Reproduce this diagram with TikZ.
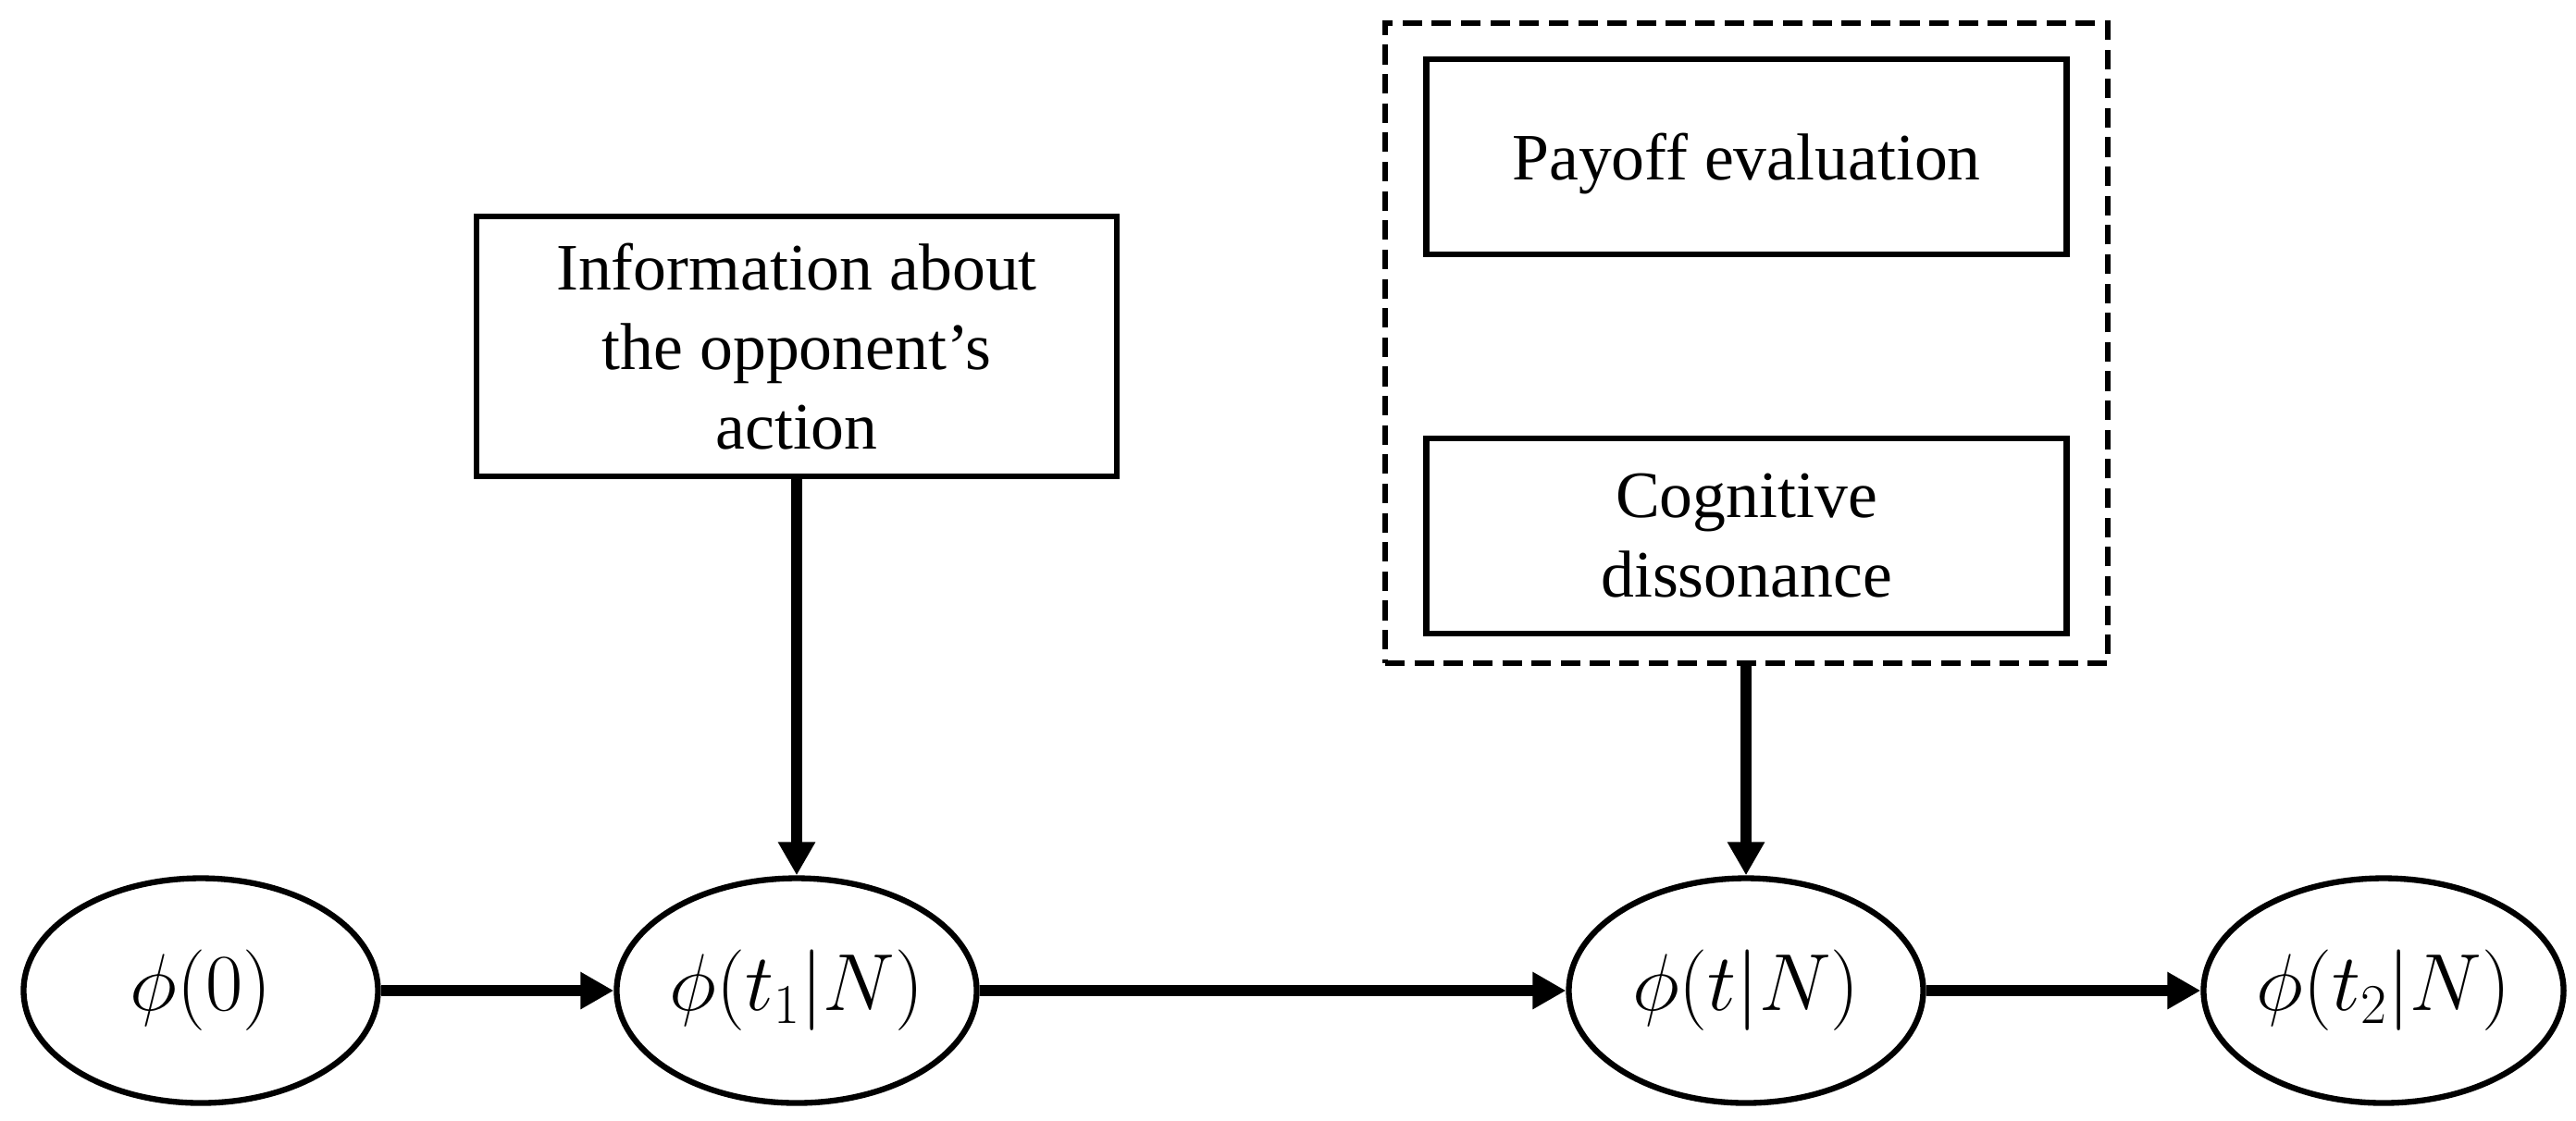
\documentclass[tikz,border=0pt]{standalone}
\usepackage{fontspec}
\setmainfont{Liberation Serif}
\usetikzlibrary{arrows.meta,shapes.geometric}
\begin{document}
\begin{tikzpicture}[
  state/.style={draw, ellipse, line width=1.8pt, minimum width=3.83cm, minimum height=2.43cm, inner sep=0pt, font=\fontsize{23}{27}\selectfont},
  infobox/.style={draw, rectangle, line width=1.8pt, minimum width=6.92cm, minimum height=2.11cm, inner sep=0pt, align=center, font=\fontsize{20.4}{24.5}\selectfont},
  group/.style={draw, rectangle, line width=1.8pt, dash pattern=on 6pt off 3pt, minimum width=7.81cm, minimum height=6.92cm, inner sep=0pt},
  flow/.style={line width=3.2pt, -{Triangle[length=0.36cm, width=0.38cm]}}
]
\useasboundingbox (0,0) rectangle (27.84,-12.11);
\node[state] (e1) at (2.17,-10.71) {$\phi(0)$};
\node[state] (e2) at (8.61,-10.71) {$\phi(t_1|N)$};
\node[state] (e3) at (18.87,-10.71) {$\phi(t|N)$};
\node[state] (e4) at (25.76,-10.71) {$\phi(t_2|N)$};
\node[infobox, minimum height=2.81cm] (info) at (8.61,-3.745) {Information about\\the opponent’s\\action};
\node[group] (grp) at (18.875,-3.71) {};
\node[infobox, text depth=0pt] (pay) at (18.875,-1.695) {Payoff evaluation};
\node[infobox] (cog) at (18.875,-5.795) {Cognitive\\dissonance};
\draw[flow] (e1) -- (e2);
\draw[flow] (e2) -- (e3);
\draw[flow] (e3) -- (e4);
\draw[flow] (info.south) -- (e2.north);
\draw[flow] (grp.south -| e3.north) -- (e3.north);
\end{tikzpicture}
\end{document}
